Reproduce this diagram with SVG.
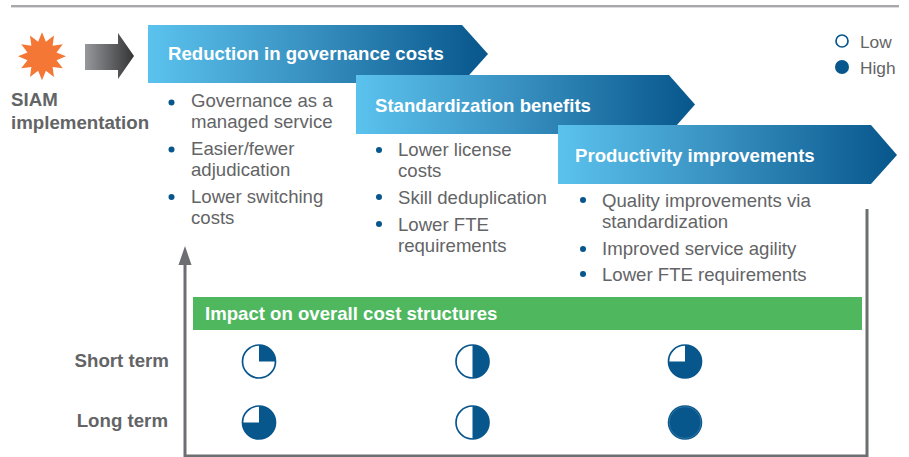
<svg xmlns="http://www.w3.org/2000/svg" width="909" height="457" viewBox="0 0 909 457">
<defs>
<linearGradient id="bar" x1="0" x2="1" y1="0" y2="0"><stop offset="0" stop-color="#5BC2EE"/><stop offset="0.45" stop-color="#3A93C2"/><stop offset="1" stop-color="#07568C"/></linearGradient>
<linearGradient id="grey" x1="0" x2="1" y1="0" y2="0"><stop offset="0" stop-color="#97989C"/><stop offset="1" stop-color="#343436"/></linearGradient>
</defs>
<style>
text{font-family:"Liberation Sans",Arial,sans-serif}
.b{font-size:18.6px;fill:#636466}
.g{font-size:17.3px;fill:#636466}
.h{font-size:18.6px;font-weight:bold;fill:#fff}
.l{font-size:18.7px;font-weight:bold;fill:#636466}
.d{fill:#07568C}
.c{fill:#fff;stroke:#07568C;stroke-width:1.7}
.f{fill:#07568C}
.ax{fill:none;stroke:#6D6E71;stroke-width:3}
</style>
<rect x="11" y="5" width="888" height="2.4" fill="#A7A8AB"/>
<g id="siam">
<polygon id="star" fill="#F47735" points="42,32.3 45.900,41.800 54,35.500 52.600,45.700 62.800,44.300 56.500,52.400 66,56.300 56.500,60.200 62.800,68.300 52.600,66.900 54,77.100 45.900,70.800 42,80.300 38.100,70.800 30,77.100 31.400,66.900 21.200,68.300 27.500,60.200 18,56.300 27.500,52.400 21.200,44.300 31.400,45.700 30,35.500 38.100,41.800"/>
<text class="l" x="11" y="106">SIAM</text>
<text class="l" x="11" y="129">implementation</text>
</g>
<g id="arrow-top"><polygon fill="url(#grey)" points="85,44 118,44 118,33 134,56 118,79 118,70 85,70"/></g>
<g id="step1">
<polygon fill="url(#bar)" points="148,25 462,25 488,54 462,83 148,83"/>
<text class="h" x="168" y="60">Reduction in governance costs</text>
<circle class="d" cx="171.500" cy="102.500" r="3"/>
<circle class="d" cx="171.500" cy="149.500" r="3"/>
<circle class="d" cx="171.500" cy="197" r="3"/>
<text class="b" x="191" y="107">Governance as a</text>
<text class="b" x="191" y="128">managed service</text>
<text class="b" x="191" y="155">Easier/fewer</text>
<text class="b" x="191" y="176">adjudication</text>
<text class="b" x="191" y="203">Lower switching</text>
<text class="b" x="191" y="224">costs</text>
</g>
<g id="step2">
<polygon fill="url(#bar)" points="356,75 669,75 695,104.500 669,134 356,134"/>
<text class="h" x="375" y="112">Standardization benefits</text>
<circle class="d" cx="379" cy="150" r="3"/>
<circle class="d" cx="379" cy="197" r="3"/>
<circle class="d" cx="379" cy="224" r="3"/>
<text class="b" x="398" y="156">Lower license</text>
<text class="b" x="398" y="177">costs</text>
<text class="b" x="398" y="204">Skill deduplication</text>
<text class="b" x="398" y="231">Lower FTE</text>
<text class="b" x="398" y="252">requirements</text>
</g>
<g id="step3">
<polygon fill="url(#bar)" points="558,125 871,125 897,155 871,184 558,184"/>
<text class="h" x="575" y="162">Productivity improvements</text>
<circle class="d" cx="583" cy="200" r="3"/>
<circle class="d" cx="583" cy="249" r="3"/>
<circle class="d" cx="583" cy="274" r="3"/>
<text class="b" x="602" y="207">Quality improvements via</text>
<text class="b" x="602" y="228">standardization</text>
<text class="b" x="602" y="255">Improved service agility</text>
<text class="b" x="602" y="281">Lower FTE requirements</text>
</g>
<g id="legend">
<circle class="c" cx="842" cy="41" r="6"/><text class="g" x="860" y="48">Low</text>
<circle class="f" cx="842" cy="67" r="7"/><text class="g" x="860" y="74">High</text>
</g>
<g id="connectors">
<path class="ax" d="M185 262V456H867V209"/>
<polygon fill="#6D6E71" points="178.500,265 185,246 191.500,265"/>
</g>
<g id="impact">
<rect x="193" y="297" width="669" height="33" fill="#4FB85F"/>
<text class="h" x="205" y="320">Impact on overall cost structures</text>
</g>
<g id="row-short"><text class="l" x="169" y="367" text-anchor="end">Short term</text></g>
<g id="row-long"><text class="l" x="168" y="427" text-anchor="end">Long term</text></g>
<g id="p1s"><circle class="c" cx="259" cy="361.500" r="16.500"/><path class="f" d="M259 361.500V345A16.500 16.500 0 0 1 275.500 361.500Z"/></g>
<g id="p1l"><circle class="c" cx="259" cy="422.500" r="16.500"/><path class="f" d="M259 422.500V406A16.500 16.500 0 1 1 242.500 422.500Z"/></g>
<g id="p2s"><circle class="c" cx="472.500" cy="361.500" r="16.500"/><path class="f" d="M472.500 345A16.500 16.500 0 0 1 472.500 378Z"/></g>
<g id="p2l"><circle class="c" cx="472.500" cy="422.500" r="16.500"/><path class="f" d="M472.500 406A16.500 16.500 0 0 1 472.500 439Z"/></g>
<g id="p3s"><circle class="c" cx="685" cy="361.500" r="16.500"/><path class="f" d="M685 361.500V345A16.500 16.500 0 1 1 668.500 361.500Z"/></g>
<g id="p3l"><circle class="f" cx="685" cy="422.500" r="17.300"/><circle cx="685" cy="422.500" r="15.900" fill="none" stroke="#4A86AE" stroke-width="0.6"/></g>
</svg>
